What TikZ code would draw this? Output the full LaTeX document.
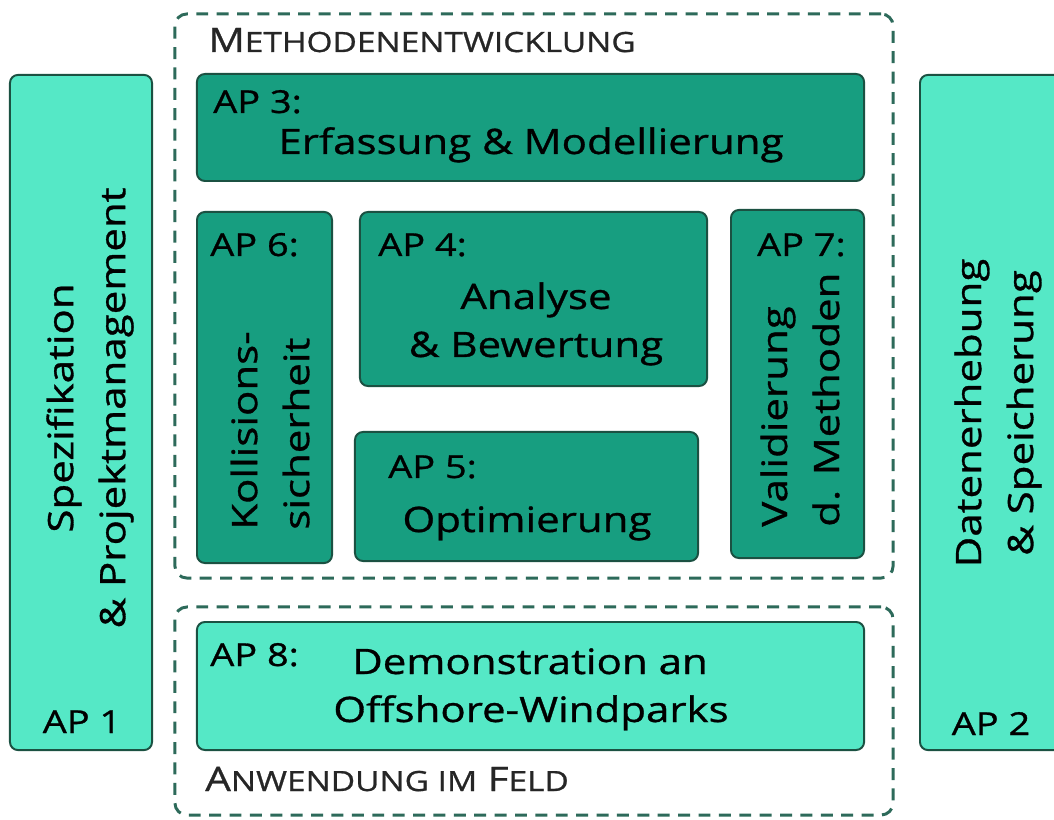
\documentclass[tikz,border=0pt]{standalone}
\usepackage{fontspec}
\setmainfont{Open Sans}[FakeStretch=1.2, FakeBold=0.9]
\definecolor{lightteal}{HTML}{55E8C6}
\definecolor{darkteal}{HTML}{179E80}
\definecolor{edgecol}{HTML}{1B5142}
\definecolor{dashcol}{HTML}{2D6A5A}
\newcommand{\fsz}[2]{\fontsize{#1pt}{#2pt}\selectfont}
\tikzset{
  wp/.style={draw=edgecol, line width=1.4pt, rounded corners=0.2cm, inner sep=0pt},
  lightwp/.style={wp, fill=lightteal},
  darkwp/.style={wp, fill=darkteal},
  grp/.style={draw=dashcol, line width=2.1pt, dash pattern=on 8.5pt off 6pt, rounded corners=0.3cm, inner sep=0pt},
  lbl/.style={inner sep=0pt, font=\fsz{22.5}{28}, text=black},
  big/.style={inner sep=0pt, font=\fsz{24.9}{37}, text=black},
  head/.style={inner sep=0pt, font=\fsz{24}{30}, text=black!85},
}
\begin{document}
\begin{tikzpicture}[x=0.025cm,y=-0.025cm]
\clip (0,0) rectangle (1054,820);
\fill[white] (0,0) rectangle (1054,820);
% dashed groups
\node[grp, minimum width=17.95cm, minimum height=14.1cm] (gmeth) at (534,296) {};
\node[grp, minimum width=17.95cm, minimum height=5.2cm] (gfeld) at (534,711) {};
% side boxes
\node[lightwp, minimum width=3.55cm, minimum height=16.875cm] (ap1) at (81,412.5) {};
\node[lightwp, minimum width=4.25cm, minimum height=16.875cm] (ap2) at (1005,412.5) {};
% inner boxes
\node[darkwp, minimum width=16.675cm, minimum height=2.675cm] (ap3) at (530.5,127.5) {};
\node[darkwp, minimum width=3.375cm, minimum height=8.775cm] (ap6) at (264.5,387.5) {};
\node[darkwp, minimum width=8.675cm, minimum height=4.35cm] (ap4) at (533.5,299) {};
\node[darkwp, minimum width=8.575cm, minimum height=3.225cm] (ap5) at (526.5,496.5) {};
\node[darkwp, minimum width=3.325cm, minimum height=8.7cm] (ap7) at (797.5,384) {};
\node[lightwp, minimum width=16.675cm, minimum height=3.2cm] (ap8) at (530.5,686) {};
% headings
\node[head, anchor=base west] (hmeth) at (208,52) {M{\fsz{19.8}{24}ETHODENENTWICKLUNG}};
\node[head, anchor=base west] (hfeld) at (205,791) {A{\fsz{19.8}{24}NWENDUNG IM} F{\fsz{19.8}{24}ELD}};
% AP 1 / AP 2
\node[big, rotate=90, align=center] (t1) at (90,408) {Spezifikation\\\& Projektmanagement};
\node[lbl, anchor=base] (l1) at (82,733) {AP 1};
\node[big, rotate=90, align=center] (t2) at (998,413) {Datenerhebung\\\& Speicherung};
\node[lbl, anchor=base] (l2) at (991,735) {AP 2};
% AP 3
\node[lbl, anchor=base west] (l3) at (213,113) {AP 3:};
\node[big, anchor=base] (t3) at (531,154) {Erfassung \& Modellierung};
% AP 6
\node[lbl, anchor=base west] (l6) at (210,256) {AP 6:};
\node[big, rotate=90, anchor=west, align=left] (t6) at (270,530) {Kollisions-\\sicherheit};
% AP 4
\node[lbl, anchor=base west] (l4) at (378,256) {AP 4:};
\node[big, anchor=base] (t4a) at (536,309) {Analyse};
\node[big, anchor=base] (t4b) at (536,357) {\& Bewertung};
% AP 5
\node[lbl, anchor=base west] (l5) at (388,478) {AP 5:};
\node[big, anchor=base] (t5) at (527,532) {Optimierung};
% AP 7
\node[lbl, anchor=base east] (l7) at (846,256) {AP 7:};
\node[big, rotate=90, anchor=west, align=left] (t7) at (800,527) {Validierung\\d. Methoden};
% AP 8
\node[lbl, anchor=base west] (l8) at (210,666) {AP 8:};
\node[big, anchor=base] (t8a) at (530,674) {Demonstration an};
\node[big, anchor=base] (t8b) at (531,722) {Offshore-Windparks};
\end{tikzpicture}
\end{document}
